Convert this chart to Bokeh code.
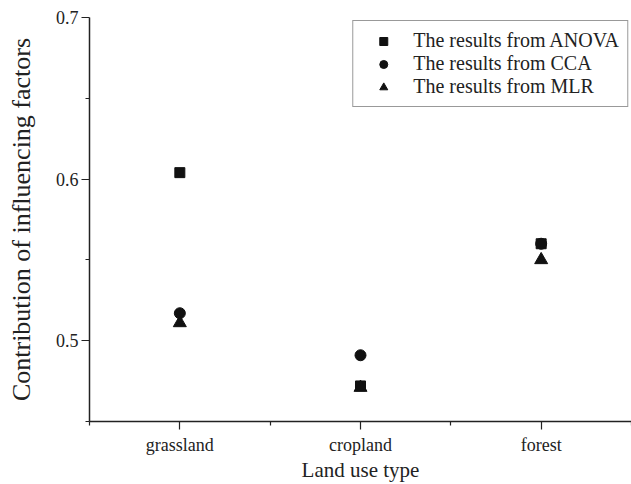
from bokeh.plotting import figure
from bokeh.models import FixedTicker, Range1d, Legend, LegendItem
from bokeh.embed import file_html
from bokeh.resources import INLINE

categories = ["grassland", "cropland", "forest"]
anova = [0.604, 0.472, 0.560]
cca = [0.517, 0.491, 0.560]
mlr = [0.511, 0.471, 0.550]
y_ticks = [0.5, 0.6, 0.7]
y_minor = [0.45, 0.55, 0.65]

xs = list(range(1, len(categories) + 1))

FONT = "Liberation Serif"

p = figure(width=631, height=484, output_backend="svg", toolbar_location=None,
           x_range=Range1d(0.5, len(categories) + 0.5), y_range=Range1d(0.45, 0.7),
           min_border_left=89, min_border_right=0, min_border_top=17, min_border_bottom=62)
p.outline_line_color = None
p.grid.visible = False
p.background_fill_color = "white"

r1 = p.scatter(xs, anova, marker="square", size=10, color="#111111")
r2 = p.scatter(xs, cca, marker="circle", size=11, color="#111111")
r3 = p.scatter(xs, mlr, marker="triangle", size=13, color="#111111")

p.xaxis.ticker = FixedTicker(ticks=xs, minor_ticks=[x - 0.5 for x in xs] + [xs[-1] + 0.5])
p.xaxis.major_label_overrides = {x: c for x, c in zip(xs, categories)}
p.yaxis.ticker = FixedTicker(ticks=y_ticks, minor_ticks=y_minor)
p.yaxis.formatter.use_scientific = False

for ax in (p.xaxis[0], p.yaxis[0]):
    ax.axis_line_color = "#222222"
    ax.axis_line_width = 1.5
    ax.major_tick_line_color = "#222222"
    ax.minor_tick_line_color = "#222222"
    ax.major_tick_line_width = 1.2
    ax.minor_tick_line_width = 1.2
    ax.major_tick_out = 8
    ax.major_tick_in = 0
    ax.minor_tick_out = 4
    ax.minor_tick_in = 0
    ax.major_label_text_font = FONT
    ax.major_label_text_font_size = "18px"
    ax.major_label_text_color = "#222222"
    ax.axis_label_text_font = FONT
    ax.axis_label_text_font_style = "normal"
    ax.axis_label_text_color = "#222222"

p.xaxis.axis_label = "Land use type"
p.yaxis.axis_label = "Contribution of influencing factors"
p.xaxis.axis_label_text_font_size = "21px"
p.yaxis.axis_label_text_font_size = "26px"
p.xaxis.major_label_standoff = 5
p.xaxis.axis_label_standoff = 0
p.yaxis.major_label_standoff = 3
p.yaxis.axis_label_standoff = 17

legend = Legend(items=[
    LegendItem(label="The results from ANOVA", renderers=[r1]),
    LegendItem(label="The results from CCA", renderers=[r2]),
    LegendItem(label="The results from MLR", renderers=[r3]),
], location="top_right")
legend.label_text_font = FONT
legend.label_text_font_size = "20px"
legend.label_text_color = "#222222"
legend.border_line_color = "#333333"
legend.border_line_width = 1
legend.background_fill_alpha = 1
legend.margin = 3
legend.padding = 8
legend.spacing = 0
legend.glyph_width = 44
legend.glyph_height = 20
legend.label_height = 20
legend.label_standoff = 8
p.add_layout(legend)

open("out.html", "w").write(file_html(p, INLINE))
